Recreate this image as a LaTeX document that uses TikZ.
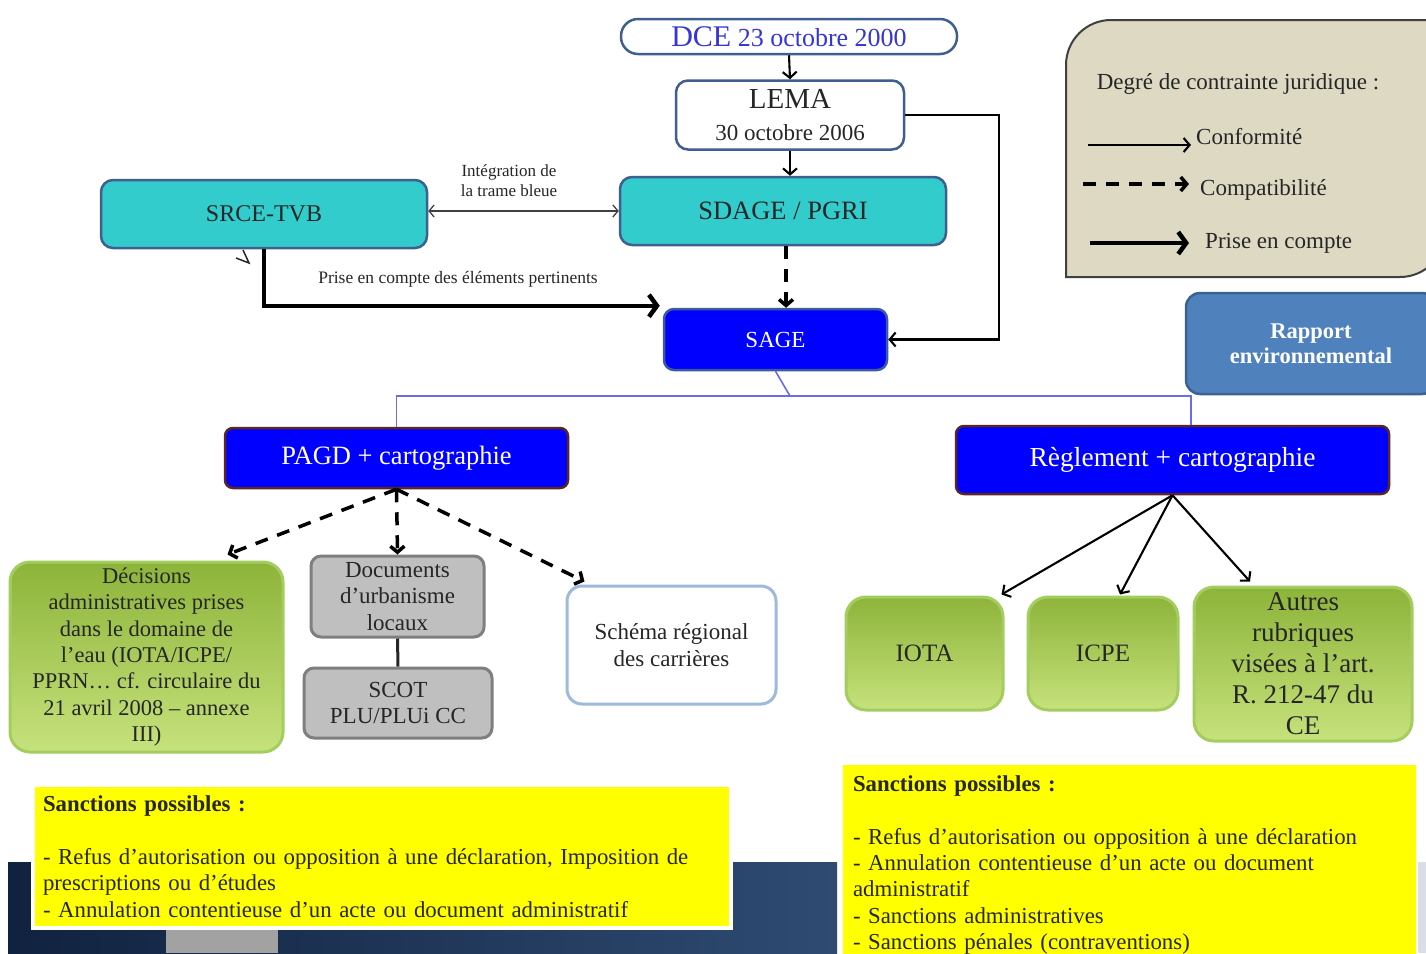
\documentclass[tikz,border=0pt]{standalone}
\usepackage{fontspec}
\setmainfont{Liberation Serif}
\usetikzlibrary{arrows.meta}
\definecolor{txt}{HTML}{262626}
\definecolor{cyanf}{HTML}{33CCCC}
\definecolor{cyanb}{HTML}{3F5F8F}
\definecolor{bluef}{HTML}{0000FF}
\definecolor{blueb}{HTML}{3D5A9E}
\definecolor{maroonb}{HTML}{5A2525}
\definecolor{rapf}{HTML}{4F81BD}
\definecolor{rapb}{HTML}{3A6394}
\definecolor{legf}{HTML}{DDD9C3}
\definecolor{legb}{HTML}{404040}
\definecolor{gtop}{HTML}{8DB43A}
\definecolor{gbot}{HTML}{C6E27C}
\definecolor{gbord}{HTML}{A3CD5E}
\definecolor{grayf}{HTML}{BFBFBF}
\definecolor{grayb}{HTML}{7F7F7F}
\definecolor{schb}{HTML}{9DB9DB}
\definecolor{dceblue}{HTML}{3535D8}
\definecolor{linkblue}{HTML}{6A6AEE}
\definecolor{navyL}{HTML}{10223F}
\definecolor{navyR}{HTML}{2F4B72}
\definecolor{yell}{HTML}{FFFF00}
\definecolor{lightstrip}{HTML}{D9DEE9}
\newcommand\fsz[2]{\fontsize{#1}{#2}\selectfont}
\begin{document}
\begin{tikzpicture}[x=1pt,y=-1pt,
  base/.style={inner sep=0pt, align=center, text=txt, line width=2.5pt},
  cyanbox/.style={base, rounded corners=12pt, fill=cyanf, draw=cyanb},
  bluebox/.style={base, rounded corners=10pt, fill=bluef, draw=blueb, text=white},
  darkbluebox/.style={base, rounded corners=8pt, fill=bluef, draw=maroonb, text=white},
  greenbox/.style={base, rounded corners=20pt, top color=gtop, bottom color=gbot, draw=gbord, line width=3pt},
  graybox/.style={base, rounded corners=10pt, fill=grayf, draw=grayb, line width=3pt},
  whitebox/.style={base, fill=white},
  yellbox/.style={inner xsep=10pt, inner ysep=0pt, align=left, text=txt, fill=yell},
  conf/.style={line width=2.1pt, -{Straight Barb[length=6pt,width=14pt]}},
  compat/.style={line width=3.5pt, dash pattern=on 13pt off 10pt, -{Straight Barb[length=6pt,width=14pt]}},
  prise/.style={line width=4.5pt, -{Straight Barb[length=8pt,width=22pt]}},
  lbl/.style={inner sep=0pt, text=txt, align=center}
]
\useasboundingbox (0,0) rectangle (1426,953);
\clip (0,0) rectangle (1426,953);
\fill[white] (0,0) rectangle (1426,953);
% background band
\fill[left color=navyL, right color=navyR] (8,862) rectangle (837,953);
\fill[grayf!85!black] (166,930) rectangle (278,953);
\fill[lightstrip] (1418,862) rectangle (1426,953);

% legend
\draw[fill=legf, draw=legb, line width=2pt] (1066,277) -- (1066,65) arc[start angle=180, end angle=270, radius=45] -- (1445,20) -- (1445,232) arc[start angle=0, end angle=90, radius=45] -- cycle;
\node[lbl, font=\fsz{23}{27}] (legtitle) at (1238,84) {Degré de contrainte juridique :};
\coordinate (l1a) at (1088,145); \coordinate (l1b) at (1191,145);
\coordinate (l2a) at (1083,184); \coordinate (l2b) at (1189,184);
\coordinate (l3a) at (1090,243); \coordinate (l3b) at (1189,243);
\draw[conf] (l1a) -- (l1b);
\draw[compat] (l2a) -- (l2b);
\draw[prise] (l3a) -- (l3b);
\node[lbl, font=\fsz{23}{27}, anchor=west] (lg1) at (1196,137) {Conformité};
\node[lbl, font=\fsz{23}{27}, anchor=west] (lg2) at (1200,190) {Compatibilité};
\node[lbl, font=\fsz{23}{27}, anchor=west] (lg3) at (1205,243) {Prise en compte};

% top chain
\node[base, rounded corners=17pt, fill=white, draw=cyanb, minimum width=336pt, minimum height=35pt, text=dceblue] (dce) at (789,36.5) {{\fsz{30}{30}DCE}{\fsz{26}{26}\ 23 octobre 2000}};
\node[base, rounded corners=12pt, fill=white, draw=cyanb, minimum width=228pt, minimum height=69pt, font=\fsz{23}{32}] (lema) at (790,115) {{\fsz{29}{29}LEMA}\\{\fsz{23}{23}30 octobre 2006}};
\node[cyanbox, minimum width=326pt, minimum height=68pt, font=\fsz{26.5}{30}] (sdage) at (783,211) {SDAGE / PGRI};
\node[cyanbox, minimum width=326pt, minimum height=68pt, font=\fsz{24}{30}] (srce) at (264,214) {SRCE-TVB};
\node[bluebox, minimum width=223pt, minimum height=61pt, font=\fsz{23}{26}] (sage) at (775.5,339.5) {SAGE};
\node[base, rounded corners=14pt, fill=rapf, draw=rapb, text=white, minimum width=250pt, minimum height=101pt, font=\bfseries\fsz{22.5}{25}] (rapport) at (1311,343.5) {Rapport\\environnemental};

\draw[conf] (dce.south) -- (lema.north);
\draw[conf] (lema.south) -- (lema.south |- sdage.north);
\draw[conf] (lema.east) -- ++(94,0) |- (sage.east);
\draw[line width=1.3pt, {Straight Barb[length=5pt,width=12pt]}-{Straight Barb[length=5pt,width=12pt]}, black!75] (srce.east |- sdage.west) -- (sdage.west);
\node[lbl, font=\fsz{17}{20}] (integ) at (509,181) {Intégration de\\la trame bleue};
\draw[compat] ([xshift=3pt]sdage.south) -- ([xshift=3pt]sdage.south |- sage.north);
\draw[prise] (srce.south) |- ([xshift=-3pt,yshift=2pt]sage.north west);
\node[lbl, font=\fsz{17.5}{20}] (prisel) at (458,279) {Prise en compte des éléments pertinents};
\draw[line width=1.5pt, txt] (243,250) -- (249,263) -- (236,258);

% SAGE split
\node[darkbluebox, minimum width=343pt, minimum height=60pt, font=\fsz{26.5}{30}] (pagd) at (396.5,458) {PAGD + cartographie};
\node[darkbluebox, minimum width=433pt, minimum height=68pt, font=\fsz{27.5}{30}] (regl) at (1172.5,460) {Règlement + cartographie};
\coordinate (hub) at (790,396);
\coordinate (rj) at (1191,396);
\draw[linkblue, line width=1.6pt] (sage.south) -- (hub);
\draw[linkblue, line width=1.6pt] (pagd.north) |- (rj) -- (rj |- regl.north);

% left branch
\node[greenbox, minimum width=273pt, minimum height=190pt, font=\fsz{22.5}{26.3}] (decis) at (146.5,657) {Décisions\\administratives prises\\dans le domaine de\\l’eau (IOTA/ICPE/\\PPRN… cf. circulaire du\\21 avril 2008 – annexe\\III)};
\node[graybox, minimum width=173pt, minimum height=81pt, font=\fsz{23}{26.5}] (docs) at (397.5,596.5) {Documents\\d’urbanisme\\locaux};
\node[graybox, minimum width=188pt, minimum height=70pt, font=\fsz{23}{26}] (scot) at (398,703) {SCOT\\PLU/PLUi CC};
\node[whitebox, rounded corners=15pt, draw=schb, line width=3pt, minimum width=209pt, minimum height=118pt, font=\fsz{23}{27}] (schema) at (671.5,645) {Schéma régional\\des carrières};
\draw[compat] (pagd.south) -- ([shift={(81,-6)}]decis.north);
\draw[compat] (pagd.south) -- (docs.north);
\draw[compat] (pagd.south) -- ([shift={(-87,-3)}]schema.north);
\draw[line width=3pt, black!85] (docs.south) -- (scot.north);

% right branch
\node[greenbox, minimum width=157pt, minimum height=113pt, font=\fsz{25}{30}] (iota) at (924.5,653.5) {IOTA};
\node[greenbox, minimum width=150pt, minimum height=113pt, font=\fsz{25}{30}] (icpe) at (1103,653.5) {ICPE};
\node[greenbox, minimum width=218pt, minimum height=154pt, font=\fsz{27}{31}] (autres) at (1303,664) {Autres\\rubriques\\visées à l’art.\\R. 212-47 du\\CE};
\draw[conf] (regl.south) -- ([shift={(-3,-1)}]iota.north east);
\draw[conf] (regl.south) -- ([shift={(17,-1)}]icpe.north);
\draw[conf] (regl.south) -- ([shift={(-53,-4)}]autres.north);

% sanctions
\node[yellbox, draw=white, line width=4pt, minimum width=698pt, minimum height=143pt, text width=678pt, font=\fsz{22.8}{26.5}] (sancL) at (382,856.5) {\textbf{Sanctions possibles :}\\[26.5pt]- Refus d’autorisation ou opposition à une déclaration, Imposition de\\prescriptions ou d’études\\- Annulation contentieuse d’un acte ou document administratif};
\node[yellbox, minimum width=573pt, minimum height=200pt, text width=553pt, font=\fsz{22.8}{26.3}] (sancR) at (1129.5,865) {\textbf{Sanctions possibles :}\\[26.3pt]- Refus d’autorisation ou opposition à une déclaration\\- Annulation contentieuse d’un acte ou document\\administratif\\- Sanctions administratives\\- Sanctions pénales (contraventions)};
\end{tikzpicture}
\end{document}
